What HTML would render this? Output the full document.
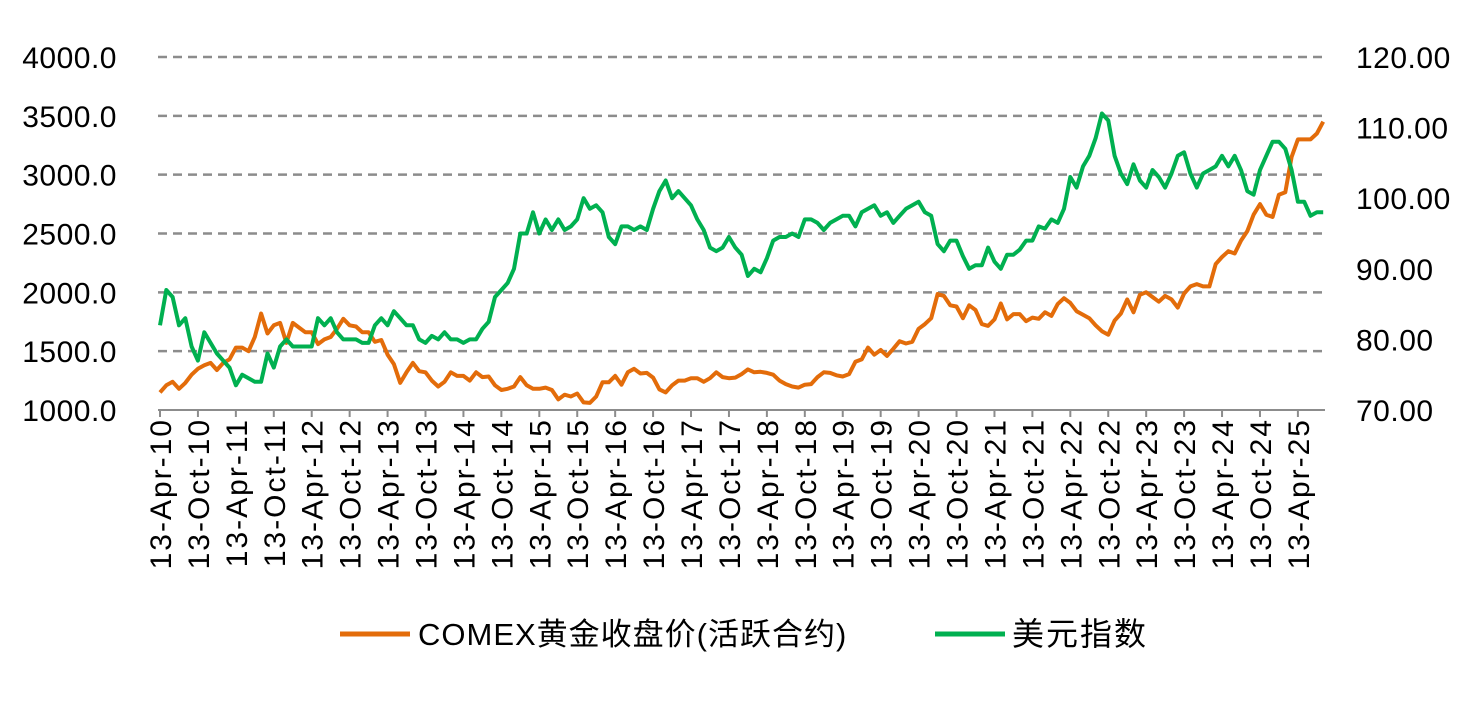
<!DOCTYPE html>
<html><head><meta charset="utf-8">
<style>
body{margin:0;background:#fff;}
svg text{font-family:"Liberation Sans","Noto Sans CJK SC",sans-serif;fill:#000;}
</style></head>
<body>
<svg id="chart" width="1478" height="697" viewBox="0 0 1478 697" xmlns="http://www.w3.org/2000/svg">
<g id="grid"></g>
<g id="yl"></g>
<g id="yr"></g>
<g id="xa"></g>
<g id="series"></g>
<g>
<line x1="340" y1="634" x2="410" y2="634" stroke="#E36C0A" stroke-width="5"/>
<text x="418" y="645" font-size="31" letter-spacing="1">COMEX黄金收盘价(活跃合约)</text>
<line x1="935" y1="634" x2="1005" y2="634" stroke="#00B050" stroke-width="5"/>
<text x="1012" y="645" font-size="32" letter-spacing="2">美元指数</text>
</g>
</svg>
<script>
const gold=[1150,1210,1240,1180,1230,1300,1350,1380,1400,
1340,1400,1430,1530,1530,1500,1620,1820,1650,1720,1740,1570,
1740,1700,1660,1660,1560,1600,1620,1690,1775,1720,1710,1660,
1660,1580,1595,1470,1390,1230,1320,1400,1330,1320,1250,1200,
1240,1320,1290,1290,1250,1320,1280,1285,1210,1170,1180,1200,
1280,1210,1180,1180,1190,1170,1090,1130,1115,1140,1065,1060,
1115,1235,1235,1290,1215,1320,1350,1310,1315,1275,1175,1150,
1210,1250,1250,1270,1270,1240,1270,1320,1280,1270,1275,1305,
1345,1320,1325,1315,1300,1250,1220,1200,1190,1215,1220,1280,
1320,1315,1295,1285,1305,1410,1430,1530,1470,1510,1460,1520,
1585,1565,1580,1690,1730,1780,1985,1970,1890,1880,1780,1890,
1850,1730,1715,1770,1905,1770,1815,1815,1755,1785,1775,1830,
1800,1900,1950,1910,1840,1810,1780,1720,1670,1640,1760,1820,
1940,1830,1980,2000,1960,1920,1970,1940,1870,1990,2050,2070,
2050,2050,2240,2300,2350,2330,2440,2520,2660,2750,2660,2640,
2830,2850,3150,3300,3300,3300,3350,3450];
const dxy=[82,87,86,82,83,79,77,81,79.5,
78,77,76,73.5,75,74.5,74,74,78,76,79,80,
79,79,79,79,83,82,83,81,80,80,80,79.5,
79.5,82,83,82,84,83,82,82,80,79.5,80.5,80,
81,80,80,79.5,80,80,81.5,82.5,86,87,88,90,
95,95,98,95,97,95.5,97,95.5,96,97,100,98.5,
99,98,94.5,93.5,96,96,95.5,96,95.5,98.5,101,102.5,
100,101,100,99,97,95.5,93,92.5,93,94.5,93,92,
89,90,89.5,91.5,94,94.5,94.5,95,94.5,97,97,96.5,
95.5,96.5,97,97.5,97.5,96,98,98.5,99,97.5,98,96.5,
97.5,98.5,99,99.5,98,97.5,93.5,92.5,94,94,91.8,90,
90.5,90.5,93,91,90,92,92,92.7,94,94,96,95.7,
97,96.5,98.5,103,101.5,104.5,106,108.5,112,111,106,103.5,
102,104.8,102.5,101.5,104,103,101.5,103.5,106,106.5,103.5,101.5,
103.5,104,104.5,106,104.5,106,104,101,100.5,104,106,108,
108,107,104,99.5,99.5,97.5,98,98];
const leftTicks=["1000.0","1500.0","2000.0","2500.0","3000.0","3500.0","4000.0"];
const rightTicks=["70.00","80.00","90.00","100.00","110.00","120.00"];
const xLabels=[];
for(let y=10;y<=25;y++){xLabels.push("13-Apr-"+y);if(y<25)xLabels.push("13-Oct-"+y);}
const NS="http://www.w3.org/2000/svg";
const X0=160,MW=37.93/6,TOP=57,BOT=410,XR=1325;
const xS=i=>X0+i*MW;
const yL=v=>BOT-(v-1000)/3000*(BOT-TOP);
const yR=v=>BOT-(v-70)/50*(BOT-TOP);
function mk(tag,attrs,parent,txt){const e=document.createElementNS(NS,tag);for(const k in attrs)e.setAttribute(k,attrs[k]);if(txt!==undefined)e.textContent=txt;document.getElementById(parent).appendChild(e);return e;}
leftTicks.forEach((t,i)=>{const v=parseFloat(t);const y=yL(v);
 if(i>0){const g=mk('line',{x1:158,x2:XR,y1:y,y2:y,stroke:'#8c8c8c','stroke-width':2.5,'stroke-dasharray':'9,6'},'grid');
 
 }
 const tx=mk('text',{x:117,y:y+11,'font-size':30,'text-anchor':'end','letter-spacing':0.5},'yl',t);
 
 
});
rightTicks.forEach(t=>{const y=yR(parseFloat(t));
 const tx=mk('text',{x:1356,y:y+11,'font-size':30,'letter-spacing':0.5},'yr',t);
 
 
});
const ax=mk('line',{x1:158,x2:XR,y1:BOT,y2:BOT,stroke:'#8c8c8c','stroke-width':2},'xa');


xLabels.forEach((t,i)=>{const x=xS(i*6);
 const tk=mk('line',{x1:x,x2:x,y1:BOT,y2:BOT+7,stroke:'#8c8c8c','stroke-width':2},'xa');
 
 
 const tx=mk('text',{x:0,y:0,'font-size':30,'letter-spacing':2,'text-anchor':'end',transform:`translate(${x+11},418) rotate(-90)`},'xa',t);
 
 
});
const gp=gold.map((v,i)=>`${xS(i).toFixed(1)},${yL(v).toFixed(1)}`).join(' ');
const dp=dxy.map((v,i)=>`${xS(i).toFixed(1)},${yR(v).toFixed(1)}`).join(' ');
const l1=mk('polyline',{points:gp,fill:'none',stroke:'#E36C0A','stroke-width':4,'stroke-linejoin':'round'},'series');


const l2=mk('polyline',{points:dp,fill:'none',stroke:'#00B050','stroke-width':4,'stroke-linejoin':'round'},'series');


</script>
</body></html>
